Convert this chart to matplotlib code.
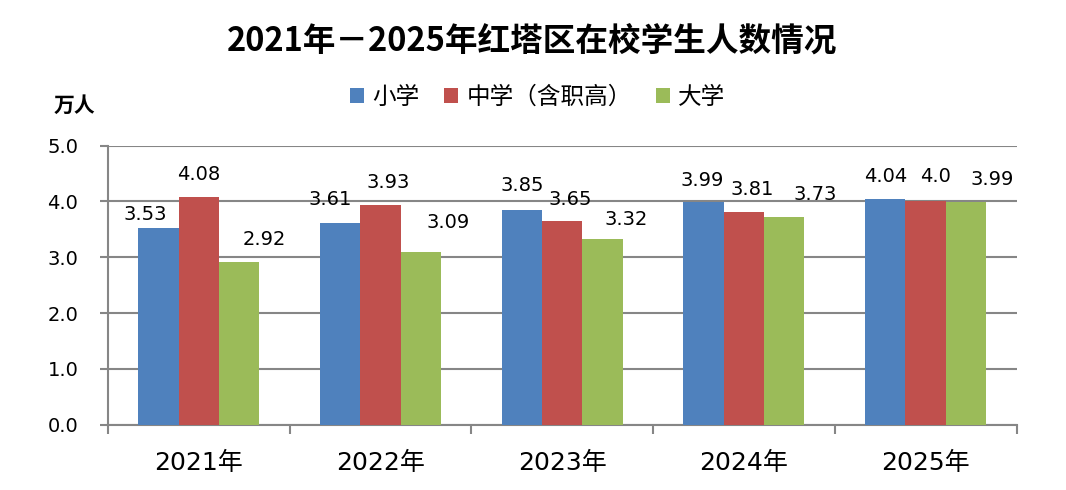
import numpy as np
import matplotlib.pyplot as plt

# 数据
years = ["2021年", "2022年", "2023年", "2024年", "2025年"]
primary = [3.53, 3.61, 3.85, 3.99, 4.04]
middle = [4.08, 3.93, 3.65, 3.81, 4.0]
college = [2.92, 3.09, 3.32, 3.73, 3.99]
value_text = [["3.53", "3.61", "3.85", "3.99", "4.04"],
              ["4.08", "3.93", "3.65", "3.81", "4.0"],
              ["2.92", "3.09", "3.32", "3.73", "3.99"]]
series_names = ["小学", "中学（含职高）", "大学"]
colors = ["#4F81BD", "#C0504D", "#9BBB59"]

# 数据标签偏移（像素）
label_offsets = [
    [(-13, 13), (-10, 24), (0, 24), (-1, 22), (0, 23)],
    [(0, 23), (8, 23), (8, 22), (8, 23), (10, 25)],
    [(25, 22), (27, 30), (24, 20), (31, 22), (26, 23)],
]

plt.rcParams['font.family'] = ['DejaVu Sans', 'Noto Sans CJK SC']
grid_color = "#868686"

fig = plt.figure(figsize=(10.66, 4.9), dpi=100)
ax = fig.add_axes([108 / 1066, 65.3 / 490, 908.5 / 1066, 279 / 490])

x = np.arange(len(years))
width = 0.222
for i, (vals, name, c) in enumerate(zip([primary, middle, college], series_names, colors)):
    pos = x + (i - 1) * width
    ax.bar(pos, vals, width, color=c, label=name, zorder=3)
    for j, v in enumerate(vals):
        ax.annotate(value_text[i][j], xy=(pos[j], v), xytext=label_offsets[i][j],
                    textcoords="offset pixels", ha="center", va="center",
                    fontsize=14, family="DejaVu Sans", zorder=4)

ax.set_xlim(-0.5, len(years) - 0.5)
ax.set_ylim(0, 5)
ax.set_yticks(np.arange(0, 5.01, 1.0))
ax.set_yticklabels([f"{t:.1f}" for t in np.arange(0, 5.01, 1.0)], fontsize=14)
ax.set_xticks(x)
ax.set_xticklabels(years, fontsize=18)
ax.set_xticks(np.arange(-0.5, len(years), 1.0), minor=True)

ax.yaxis.grid(True, color=grid_color, linewidth=1.5, zorder=0)
ax.tick_params(axis="y", length=5.8, width=1.5, color=grid_color, pad=15.5)
ax.tick_params(axis="x", which="major", length=0, pad=19)
ax.tick_params(axis="x", which="minor", length=6.5, width=1.5, color=grid_color)
for side in ["top", "right"]:
    ax.spines[side].set_visible(False)
for side in ["left", "bottom"]:
    ax.spines[side].set_color(grid_color)
    ax.spines[side].set_linewidth(1.5)

fig.text(532 / 1066, 1 - 41 / 490, "2021年－2025年红塔区在校学生人数情况",
         ha="center", va="center", fontsize=23.5, fontweight="bold",
         family="Noto Sans CJK SC")
fig.text(74 / 1066, 1 - 105 / 490, "万人", ha="center", va="center",
         fontsize=15, fontweight="bold", family="Noto Sans CJK SC")

fig.legend(loc="center", bbox_to_anchor=(538 / 1066, 1 - 97 / 490), ncol=3,
           frameon=False, handlelength=0.58, handleheight=0.58, handletextpad=0.35,
           columnspacing=1.05, prop={"family": "Noto Sans CJK SC", "size": 17})

plt.savefig("out.png", dpi=100)
